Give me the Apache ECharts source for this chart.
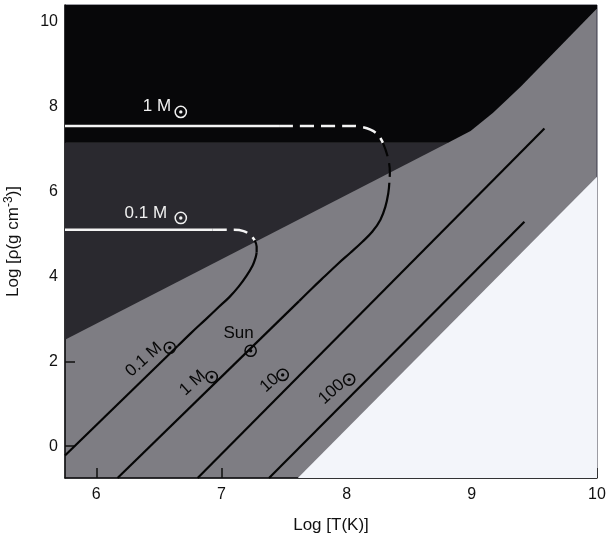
<!DOCTYPE html>
<html>
<head>
<meta charset="utf-8">
<script src="https://cdn.jsdelivr.net/npm/echarts@6/dist/echarts.min.js"></script>
<style>html,body{margin:0;padding:0;background:#fff}#c{width:608px;height:535px}</style>
</head>
<body>
<div id="c"></div>
<script>
// ---- axis ticks ----
const xTicks = [6, 7, 8, 9, 10];
const yTicks = [0, 2, 4, 6, 8, 10];

// ---- regions (log T, log rho) ----
const regionDark = [[5.75, 7.15], [5.75, 2.51], [8.81, 7.15]];
const regionBlack = [[5.75, 10.4], [5.75, 7.15], [8.81, 7.15], [8.99, 7.43], [9.17, 7.86], [9.39, 8.47], [10.0, 10.32], [10.0, 10.4]];
const regionWhite = [[7.61, -0.75], [10.0, 6.35], [10.0, -0.75]];

// ---- 0.1 Msun track ----
const track01WhiteSolid = [[5.75, 5.10], [6.93, 5.10]];
const track01WhiteDash = [[6.93, 5.10], [6.994, 5.10], [7.097, 5.10], [7.177, 5.07], [7.233, 4.97], [7.265, 4.85]];
const track01BlackDash = [[7.265, 4.85], [7.281, 4.71], [7.281, 4.57]];
const track01Curve = [[7.281, 4.57], [7.273, 4.45], [7.249, 4.26], [7.201, 4.02], [7.137, 3.76], [7.065, 3.52], [6.978, 3.28], [6.874, 2.99], [6.754, 2.66], [6.65, 2.36]];
const track01Straight = [[6.65, 2.36], [5.75, -0.22]];

// ---- 1 Msun track ----
const track1WhiteSolid = [[5.75, 7.55], [7.46, 7.55]];
const track1WhiteDash = [[7.46, 7.55], [8.03, 7.55], [8.11, 7.53], [8.19, 7.46], [8.25, 7.34], [8.29, 7.15]];
const track1BlackDash = [[8.29, 7.15], [8.33, 6.80], [8.345, 6.45], [8.341, 6.21]];
const track1Curve = [[8.341, 6.21], [8.333, 5.97], [8.309, 5.64], [8.27, 5.34], [8.206, 5.06], [8.126, 4.82], [8.03, 4.56], [7.927, 4.29], [7.823, 4.00], [7.727, 3.73], [7.62, 3.42]];
const track1Straight = [[7.62, 3.42], [6.17, -0.75]];

// ---- 10 and 100 Msun ----
const track10 = [[6.81, -0.75], [9.58, 7.49]];
const track100 = [[7.38, -0.75], [9.42, 5.29]];

// ---- labels ----
const whiteLabelTexts = ['1 M', '0.1 M'];
const whiteLabelPos = [[6.484, 8.00], [6.396, 5.50]];
const whiteSunPos = [[6.675, 7.88], [6.675, 5.38]];
const sunLabelText = ['Sun'];
const sunLabelPos = [[7.137, 2.67]];
const slantLabelTexts = ['0.1 M', '1 M', '10', '100'];
const slantLabelPos = [[6.38, 2.04], [6.77, 1.49], [7.385, 1.49], [7.88, 1.28]];
const blackSunPos = [[7.233, 2.25], [6.587, 2.32], [6.922, 1.63], [7.489, 1.68], [8.02, 1.57]];

const FONT = '"Liberation Sans", Arial, Helvetica, sans-serif';

function polygon(points, color, z) {
  return {
    type: 'custom', coordinateSystem: 'cartesian2d', silent: true, z: z,
    data: [points[0]],
    renderItem: function (params, api) {
      return { type: 'polygon', shape: { points: points.map(function (p) { return api.coord(p); }) }, style: { fill: color } };
    }
  };
}
function line(data, color, width, type, smooth) {
  return {
    type: 'line', data: data, showSymbol: false, symbol: 'none', silent: true, z: 5,
    smooth: smooth || 0, lineStyle: { color: color, width: width, type: type || 'solid', cap: 'butt' }
  };
}
function suns(pos, color) {
  return {
    type: 'custom', coordinateSystem: 'cartesian2d', silent: true, z: 8, data: pos,
    renderItem: function (params, api) {
      const c = api.coord([api.value(0), api.value(1)]);
      return { type: 'group', children: [
        { type: 'circle', shape: { cx: c[0], cy: c[1], r: 5.6 }, style: { fill: 'none', stroke: color, lineWidth: 1.5 } },
        { type: 'circle', shape: { cx: c[0], cy: c[1], r: 1.7 }, style: { fill: color } }
      ] };
    }
  };
}
function labels(pos, texts, color, rot) {
  return {
    type: 'custom', coordinateSystem: 'cartesian2d', silent: true, z: 8, data: pos,
    renderItem: function (params, api) {
      const c = api.coord([api.value(0), api.value(1)]);
      return { type: 'text', x: c[0], y: c[1], rotation: (rot || 0) * Math.PI / 180,
        style: { text: texts[params.dataIndex], fill: color, font: '17px ' + FONT, align: 'center', verticalAlign: 'middle' } };
    }
  };
}

const chart = echarts.init(document.getElementById('c'), null, { renderer: 'canvas' });
chart.setOption({
  animation: false,
  grid: { left: 65, right: 11, top: 5, bottom: 57, containLabel: false, outerBoundsMode: 'none',
    show: true, backgroundColor: '#7e7d83', borderColor: '#3a3a48', borderWidth: 1 },
  xAxis: {
    type: 'value', min: 5.75, max: 10,
    name: 'Log [T(K)]', nameLocation: 'middle', nameGap: 39,
    nameTextStyle: { fontSize: 17, color: '#111', fontFamily: FONT },
    axisLine: { onZero: false, lineStyle: { color: '#111', width: 1.5 } },
    axisTick: { inside: true, length: 10, customValues: xTicks, lineStyle: { color: '#111', width: 1.5 } },
    axisLabel: { customValues: xTicks, fontSize: 16, color: '#111', fontFamily: FONT, margin: 9 },
    splitLine: { show: false }
  },
  yAxis: {
    type: 'value', min: -0.75, max: 10.4,
    name: '{a|Log [ρ(g cm}{s|-3}{a|)]}', nameLocation: 'middle', nameGap: 42, nameRotate: 90,
    nameTextStyle: { fontSize: 17, color: '#111', fontFamily: FONT,
      rich: { a: { fontSize: 17, color: '#111', fontFamily: FONT, lineHeight: 20 },
              s: { fontSize: 12, color: '#111', fontFamily: FONT, lineHeight: 14, verticalAlign: 'top' } } },
    axisLine: { onZero: false, lineStyle: { color: '#111', width: 1.5 } },
    axisTick: { inside: true, length: 10, customValues: yTicks, lineStyle: { color: '#111', width: 1.5 } },
    axisLabel: { customValues: yTicks, fontSize: 16, color: '#111', fontFamily: FONT, margin: 7 },
    splitLine: { show: false }
  },
  series: [
    polygon(regionDark, '#2a292f', 1),
    polygon(regionBlack, '#070709', 2),
    polygon(regionWhite, '#f3f5fa', 2),
    line(track01WhiteSolid, '#f4f4f4', 2.5),
    line(track01WhiteDash, '#f4f4f4', 2.5, [14, 7], 0.4),
    line(track01BlackDash, '#050505', 2.2, [14, 7], 0.4),
    line(track01Curve, '#050505', 2.2, 'solid', 0.4),
    line(track01Straight, '#050505', 2.2),
    line(track1WhiteSolid, '#f4f4f4', 2.5),
    line(track1WhiteDash, '#f4f4f4', 2.5, [14, 7], 0.4),
    line(track1BlackDash, '#050505', 2.2, [14, 7], 0.4),
    line(track1Curve, '#050505', 2.2, 'solid', 0.4),
    line(track1Straight, '#050505', 2.2),
    line(track10, '#050505', 2.2),
    line(track100, '#050505', 2.2),
    suns(whiteSunPos, '#f0f0f0'),
    suns(blackSunPos, '#080808'),
    labels(whiteLabelPos, whiteLabelTexts, '#f0f0f0', 0),
    labels(sunLabelPos, sunLabelText, '#080808', 0),
    labels(slantLabelPos, slantLabelTexts, '#080808', 42)
  ]
});
</script>
</body>
</html>
